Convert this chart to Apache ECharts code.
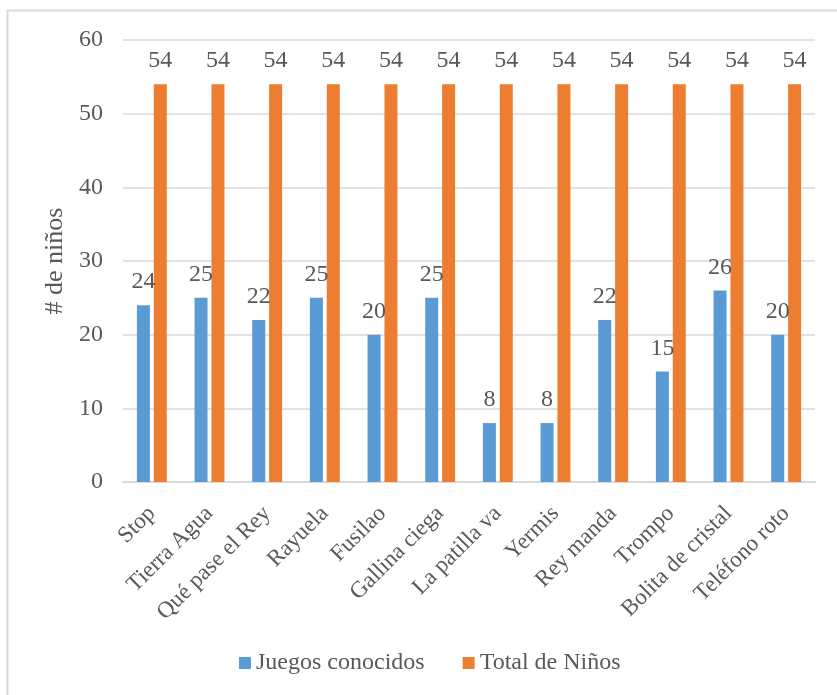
<!DOCTYPE html>
<html>
<head>
<meta charset="utf-8">
<script src="https://cdn.jsdelivr.net/npm/echarts@6/dist/echarts.min.js"></script>
<style>
html,body{margin:0;padding:0;background:#fff;}
#c{width:837px;height:695px;}
</style>
</head>
<body>
<div id="c"></div>
<script>
const categories = ["Stop","Tierra Agua","Qué pase el Rey","Rayuela","Fusilao","Gallina ciega","La patilla va","Yermis","Rey manda","Trompo","Bolita de cristal","Teléfono roto"];
const juegosConocidos = [24,25,22,25,20,25,8,8,22,15,26,20];
const totalNinos = [54,54,54,54,54,54,54,54,54,54,54,54];
const yTicks = {min:0, max:60, interval:10};
const seriesNames = ["Juegos conocidos","Total de Niños"];
const yName = "# de niños";

const font = '"Liberation Serif","Times New Roman",serif';
const txt = '#595959';
const chart = echarts.init(document.getElementById('c'), null, {renderer:'canvas'});
chart.setOption({
  animation:false,
  backgroundColor:'#fff',
  graphic:[{type:'rect', shape:{x:7.5,y:10.5,width:900,height:800}, style:{fill:'none',stroke:'#d9d9d9',lineWidth:2}, silent:true}],
  grid:{left:123,right:22,top:40,bottom:213,containLabel:false},
  legend:{
    data:seriesNames, left:239, top:651, padding:0, itemWidth:12, itemHeight:12, itemGap:38,
    icon:'rect',
    textStyle:{fontFamily:font,fontSize:24,color:txt,padding:[0,0,0,0]},
    itemStyle:{borderWidth:0}
  },
  xAxis:{
    type:'category', data:categories,
    axisLine:{lineStyle:{color:'#d9d9d9',width:2}},
    axisTick:{show:false},
    axisLabel:{rotate:45, interval:0, margin:28, fontFamily:font, fontSize:23, color:txt}
  },
  yAxis:{
    type:'value', min:yTicks.min, max:yTicks.max, interval:yTicks.interval,
    name:yName, nameLocation:'middle', nameGap:50, nameRotate:90,
    nameTextStyle:{fontFamily:font,fontSize:26,color:txt},
    axisLine:{show:false}, axisTick:{show:false},
    axisLabel:{margin:20, fontFamily:font, fontSize:24, color:txt},
    splitLine:{lineStyle:{color:'#d9d9d9',width:1.5}}
  },
  series:[
    {name:seriesNames[0], type:'bar', data:juegosConocidos, barWidth:13, barGap:'30%',
     itemStyle:{color:'#5B9BD5'},
     label:{show:true,position:'top',distance:11,fontFamily:font,fontSize:24,color:txt}},
    {name:seriesNames[1], type:'bar', data:totalNinos, barWidth:13, barGap:'30%',
     itemStyle:{color:'#ED7D31'},
     label:{show:true,position:'top',distance:11,fontFamily:font,fontSize:24,color:txt}}
  ]
});
</script>
</body>
</html>
